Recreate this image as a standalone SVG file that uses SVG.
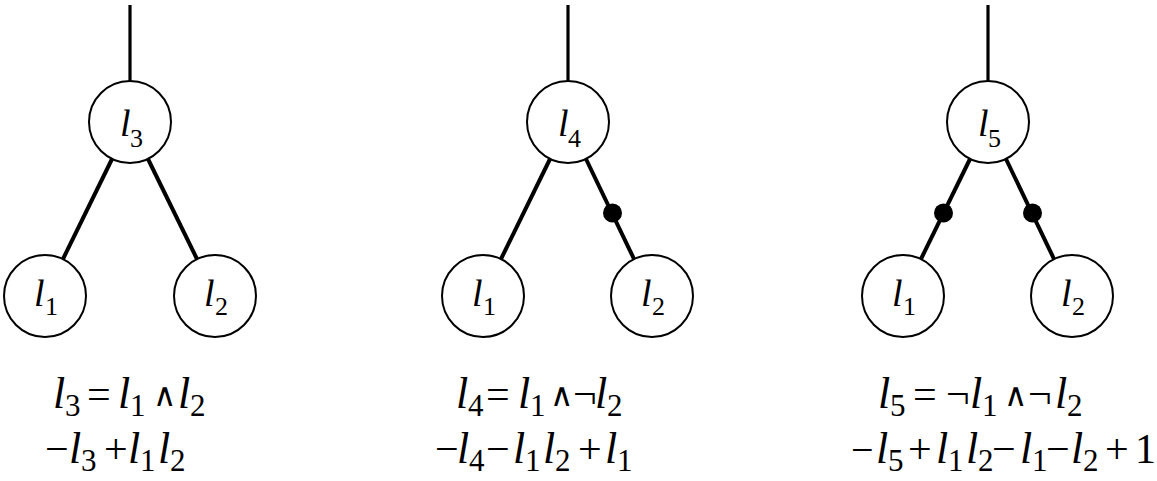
<svg xmlns="http://www.w3.org/2000/svg" width="1157" height="481" viewBox="0 0 1157 481">
<defs>
<style>
.n{fill:#fff;stroke:#000;stroke-width:2}
.top{stroke:#000;stroke-width:3.2;fill:none}
.e{stroke:#000;stroke-width:4;fill:none}
.dot{fill:#000}
</style>
</defs>
<rect width="1157" height="481" fill="#fff"/>
<g id="connectors">
<line class="top" x1="130" y1="5" x2="130" y2="81"/>
<line class="top" x1="568" y1="5" x2="568" y2="81"/>
<line class="top" x1="988" y1="5" x2="988" y2="81"/>
<line class="e" x1="112" y1="159" x2="63" y2="259"/>
<line class="e" x1="148" y1="159" x2="197" y2="259"/>
<line class="e" x1="550" y1="159" x2="501" y2="259"/>
<line class="e" x1="586" y1="159" x2="634" y2="259"/>
<line class="e" x1="970" y1="159" x2="921" y2="259"/>
<line class="e" x1="1006" y1="159" x2="1054" y2="259"/>
<circle class="dot" cx="612.5" cy="213" r="9.5"/>
<circle class="dot" cx="943.5" cy="213" r="9.5"/>
<circle class="dot" cx="1032.5" cy="213" r="9.5"/>
</g>
<g id="n_l3"><circle class="n" cx="130" cy="122" r="41"/>
<text x="120" y="136" style="font-family:'Liberation Serif',serif !important;font-size:38px;font-style:italic">l</text>
<text x="130" y="147" style="font-family:'Liberation Serif',serif !important;font-size:26px">3</text></g>
<g id="n_a_l1"><circle class="n" cx="45" cy="296" r="41"/>
<text x="34" y="306" style="font-family:'Liberation Serif',serif !important;font-size:38px;font-style:italic">l</text>
<text x="45" y="315" style="font-family:'Liberation Serif',serif !important;font-size:26px">1</text></g>
<g id="n_a_l2"><circle class="n" cx="215" cy="296" r="41"/>
<text x="204" y="306" style="font-family:'Liberation Serif',serif !important;font-size:38px;font-style:italic">l</text>
<text x="215" y="315" style="font-family:'Liberation Serif',serif !important;font-size:26px">2</text></g>
<g id="n_l4"><circle class="n" cx="568" cy="122" r="41"/>
<text x="558" y="136" style="font-family:'Liberation Serif',serif !important;font-size:38px;font-style:italic">l</text>
<text x="568" y="147" style="font-family:'Liberation Serif',serif !important;font-size:26px">4</text></g>
<g id="n_b_l1"><circle class="n" cx="483" cy="296" r="41"/>
<text x="472" y="306" style="font-family:'Liberation Serif',serif !important;font-size:38px;font-style:italic">l</text>
<text x="483" y="315" style="font-family:'Liberation Serif',serif !important;font-size:26px">1</text></g>
<g id="n_b_l2"><circle class="n" cx="652" cy="296" r="41"/>
<text x="641" y="306" style="font-family:'Liberation Serif',serif !important;font-size:38px;font-style:italic">l</text>
<text x="652" y="315" style="font-family:'Liberation Serif',serif !important;font-size:26px">2</text></g>
<g id="n_l5"><circle class="n" cx="988" cy="122" r="41"/>
<text x="978" y="136" style="font-family:'Liberation Serif',serif !important;font-size:38px;font-style:italic">l</text>
<text x="988" y="147" style="font-family:'Liberation Serif',serif !important;font-size:26px">5</text></g>
<g id="n_c_l1"><circle class="n" cx="903" cy="296" r="41"/>
<text x="892" y="306" style="font-family:'Liberation Serif',serif !important;font-size:38px;font-style:italic">l</text>
<text x="903" y="315" style="font-family:'Liberation Serif',serif !important;font-size:26px">1</text></g>
<g id="n_c_l2"><circle class="n" cx="1072" cy="296" r="41"/>
<text x="1061" y="306" style="font-family:'Liberation Serif',serif !important;font-size:38px;font-style:italic">l</text>
<text x="1072" y="315" style="font-family:'Liberation Serif',serif !important;font-size:26px">2</text></g>
<g id="eq1">
<text x="53" y="408" style="font-family:'Liberation Serif',serif !important;font-size:44px;font-style:italic">l</text>
<text x="65" y="416" style="font-family:'Liberation Serif',serif !important;font-size:31px">3</text>
<text x="87" y="408" style="font-family:'Liberation Serif',serif !important;font-size:42px">=</text>
<text x="118" y="408" style="font-family:'Liberation Serif',serif !important;font-size:44px;font-style:italic">l</text>
<text x="130" y="416" style="font-family:'Liberation Serif',serif !important;font-size:31px">1</text>
<text x="153" y="406" style="font-family:'DejaVu Serif',serif !important;font-size:32px">∧</text>
<text x="178" y="408" style="font-family:'Liberation Serif',serif !important;font-size:44px;font-style:italic">l</text>
<text x="190" y="416" style="font-family:'Liberation Serif',serif !important;font-size:31px">2</text>
<text x="45" y="463" style="font-family:'Liberation Serif',serif !important;font-size:42px">−</text>
<text x="69" y="463" style="font-family:'Liberation Serif',serif !important;font-size:44px;font-style:italic">l</text>
<text x="81" y="471" style="font-family:'Liberation Serif',serif !important;font-size:31px">3</text>
<text x="104" y="463" style="font-family:'Liberation Serif',serif !important;font-size:42px">+</text>
<text x="128" y="463" style="font-family:'Liberation Serif',serif !important;font-size:44px;font-style:italic">l</text>
<text x="140" y="471" style="font-family:'Liberation Serif',serif !important;font-size:31px">1</text>
<text x="158" y="463" style="font-family:'Liberation Serif',serif !important;font-size:44px;font-style:italic">l</text>
<text x="170" y="471" style="font-family:'Liberation Serif',serif !important;font-size:31px">2</text>
</g>
<g id="eq2">
<text x="456" y="408" style="font-family:'Liberation Serif',serif !important;font-size:44px;font-style:italic">l</text>
<text x="468" y="416" style="font-family:'Liberation Serif',serif !important;font-size:31px">4</text>
<text x="486" y="408" style="font-family:'Liberation Serif',serif !important;font-size:42px">=</text>
<text x="518" y="408" style="font-family:'Liberation Serif',serif !important;font-size:44px;font-style:italic">l</text>
<text x="530" y="416" style="font-family:'Liberation Serif',serif !important;font-size:31px">1</text>
<text x="550" y="406" style="font-family:'DejaVu Serif',serif !important;font-size:32px">∧</text>
<text x="573" y="408" style="font-family:'Liberation Serif',serif !important;font-size:42px">¬</text>
<text x="595" y="408" style="font-family:'Liberation Serif',serif !important;font-size:44px;font-style:italic">l</text>
<text x="607" y="416" style="font-family:'Liberation Serif',serif !important;font-size:31px">2</text>
<text x="435" y="463" style="font-family:'Liberation Serif',serif !important;font-size:42px">−</text>
<text x="457" y="463" style="font-family:'Liberation Serif',serif !important;font-size:44px;font-style:italic">l</text>
<text x="469" y="471" style="font-family:'Liberation Serif',serif !important;font-size:31px">4</text>
<text x="486" y="463" style="font-family:'Liberation Serif',serif !important;font-size:42px">−</text>
<text x="513" y="463" style="font-family:'Liberation Serif',serif !important;font-size:44px;font-style:italic">l</text>
<text x="525" y="471" style="font-family:'Liberation Serif',serif !important;font-size:31px">1</text>
<text x="543" y="463" style="font-family:'Liberation Serif',serif !important;font-size:44px;font-style:italic">l</text>
<text x="555" y="471" style="font-family:'Liberation Serif',serif !important;font-size:31px">2</text>
<text x="578" y="463" style="font-family:'Liberation Serif',serif !important;font-size:42px">+</text>
<text x="605" y="463" style="font-family:'Liberation Serif',serif !important;font-size:44px;font-style:italic">l</text>
<text x="617" y="471" style="font-family:'Liberation Serif',serif !important;font-size:31px">1</text>
</g>
<g id="eq3">
<text x="878" y="408" style="font-family:'Liberation Serif',serif !important;font-size:44px;font-style:italic">l</text>
<text x="890" y="416" style="font-family:'Liberation Serif',serif !important;font-size:31px">5</text>
<text x="913" y="408" style="font-family:'Liberation Serif',serif !important;font-size:42px">=</text>
<text x="946" y="408" style="font-family:'Liberation Serif',serif !important;font-size:42px">¬</text>
<text x="970" y="408" style="font-family:'Liberation Serif',serif !important;font-size:44px;font-style:italic">l</text>
<text x="982" y="416" style="font-family:'Liberation Serif',serif !important;font-size:31px">1</text>
<text x="1004" y="406" style="font-family:'DejaVu Serif',serif !important;font-size:32px">∧</text>
<text x="1028" y="408" style="font-family:'Liberation Serif',serif !important;font-size:42px">¬</text>
<text x="1055" y="408" style="font-family:'Liberation Serif',serif !important;font-size:44px;font-style:italic">l</text>
<text x="1067" y="416" style="font-family:'Liberation Serif',serif !important;font-size:31px">2</text>
<text x="851" y="463" style="font-family:'Liberation Serif',serif !important;font-size:40px">−</text>
<text x="876" y="463" style="font-family:'Liberation Serif',serif !important;font-size:44px;font-style:italic">l</text>
<text x="888" y="471" style="font-family:'Liberation Serif',serif !important;font-size:31px">5</text>
<text x="908" y="463" style="font-family:'Liberation Serif',serif !important;font-size:42px">+</text>
<text x="936" y="463" style="font-family:'Liberation Serif',serif !important;font-size:44px;font-style:italic">l</text>
<text x="948" y="471" style="font-family:'Liberation Serif',serif !important;font-size:31px">1</text>
<text x="966" y="463" style="font-family:'Liberation Serif',serif !important;font-size:44px;font-style:italic">l</text>
<text x="978" y="471" style="font-family:'Liberation Serif',serif !important;font-size:31px">2</text>
<text x="992" y="463" style="font-family:'Liberation Serif',serif !important;font-size:42px">−</text>
<text x="1020" y="463" style="font-family:'Liberation Serif',serif !important;font-size:44px;font-style:italic">l</text>
<text x="1032" y="471" style="font-family:'Liberation Serif',serif !important;font-size:31px">1</text>
<text x="1046" y="463" style="font-family:'Liberation Serif',serif !important;font-size:42px">−</text>
<text x="1071" y="463" style="font-family:'Liberation Serif',serif !important;font-size:44px;font-style:italic">l</text>
<text x="1083" y="471" style="font-family:'Liberation Serif',serif !important;font-size:31px">2</text>
<text x="1105" y="463" style="font-family:'Liberation Serif',serif !important;font-size:42px">+</text>
<text x="1135" y="463" style="font-family:'Liberation Serif',serif !important;font-size:42px">1</text>
</g>
</svg>
